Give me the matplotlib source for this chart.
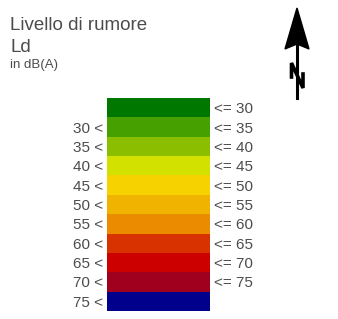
import matplotlib
matplotlib.use("Agg")
import matplotlib.pyplot as plt
from matplotlib.patches import Polygon
from matplotlib.lines import Line2D

plt.rcParams['font.family'] = ['Liberation Sans', 'DejaVu Sans']

title_lines = ["Livello di rumore", "Ld"]
unit_label = "in dB(A)"
band_colors = ["#007800", "#46a000", "#8cbe00", "#d2e100", "#f5d200", "#f0b400",
               "#eb8c00", "#d73200", "#cd0000", "#a0001e", "#00008c"]
left_labels = ["", "30 <", "35 <", "40 <", "45 <", "50 <", "55 <", "60 <", "65 <", "70 <", "75 <"]
right_labels = ["<= 30", "<= 35", "<= 40", "<= 45", "<= 50", "<= 55", "<= 60", "<= 65", "<= 70", "<= 75", ""]

W, H = 338, 319
fig = plt.figure(figsize=(W / 100, H / 100), dpi=100)
fig.patch.set_facecolor("white")

# background axes in pixel coordinates
bg = fig.add_axes([0, 0, 1, 1])
bg.set_xlim(0, W)
bg.set_ylim(H, 0)
bg.axis("off")

txt_color = "#4c4c4c"
bg.text(10, 30, title_lines[0], fontsize=13.5, color=txt_color, va="baseline", ha="left")
bg.text(10, 52, title_lines[1], fontsize=13.5, color=txt_color, va="baseline", ha="left")
bg.text(10, 68, unit_label, fontsize=9.5, color=txt_color, va="baseline", ha="left")

# north arrow
cx = 297
bg.add_patch(Polygon([(cx, 8), (cx - 12, 49), (cx, 44), (cx + 12, 49)], closed=True,
                     facecolor="black", edgecolor="black", lw=1))
bg.add_line(Line2D([cx, cx], [44, 98], color="black", lw=2.2))
bg.add_line(Line2D([cx - 5.5, cx - 5.5, cx + 6, cx + 6], [77, 63, 88, 74], color="black", lw=2.6,
                   solid_joinstyle="miter"))

# legend bar
x0, x1, y0, y1 = 107, 210, 98, 311
ax = fig.add_axes([x0 / W, 1 - y1 / H, (x1 - x0) / W, (y1 - y0) / H])
n = len(band_colors)
ax.barh(range(n), [1] * n, height=1.0, left=0, color=band_colors, edgecolor="none")
ax.set_xlim(0, 1)
ax.set_ylim(n - 0.5, -0.5)
ax.set_yticks(range(n))
ax.set_yticklabels(left_labels, fontsize=11, color=txt_color)
ax.tick_params(axis="y", length=0, pad=3)
ax.set_xticks([])
for s in ax.spines.values():
    s.set_visible(False)
ax2 = ax.twinx()
ax2.set_ylim(n - 0.5, -0.5)
ax2.set_yticks(range(n))
ax2.set_yticklabels(right_labels, fontsize=11, color=txt_color)
ax2.tick_params(axis="y", length=0, pad=3)
for s in ax2.spines.values():
    s.set_visible(False)

fig.savefig("out.png", dpi=100, facecolor="white")
